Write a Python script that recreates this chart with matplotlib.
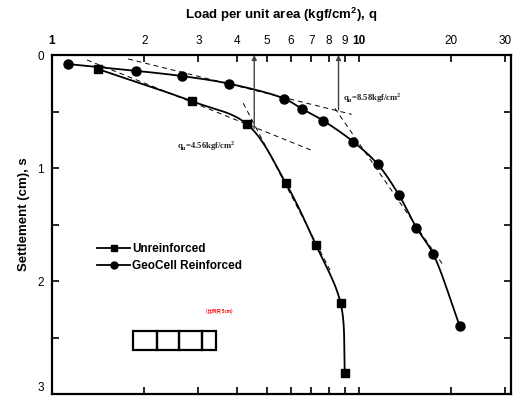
import matplotlib
matplotlib.use("Agg")
import matplotlib.pyplot as plt
import numpy as np
from matplotlib.lines import Line2D
from matplotlib.patches import Rectangle
from matplotlib.ticker import FixedLocator, MultipleLocator, FuncFormatter, NullLocator

plt.rcParams["font.family"] = ["Liberation Sans", "DejaVu Sans"]

# load per unit area q (kgf/cm2) and settlement s (cm)
q_unreinforced = [1.41, 2.86, 4.31, 5.78, 7.24, 8.72, 9.0]
s_unreinforced = [0.124, 0.41, 0.61, 1.135, 1.68, 2.197, 2.817]

q_geocell = [1.127, 1.88, 2.645, 3.78, 5.71, 6.51, 7.65, 9.58, 11.5, 13.5, 15.4, 17.46, 21.3]
s_geocell = [0.08, 0.14, 0.186, 0.254, 0.386, 0.475, 0.581, 0.767, 0.965, 1.239, 1.528, 1.761, 2.398]

# tangent lines used to pick the ultimate bearing capacity: (q0, s0, q1, s1)
tangents = [
    (1.30, 0.044, 7.07, 0.847),
    (4.20, 0.427, 8.05, 1.903),
    (1.77, 0.035, 9.47, 0.525),
    (8.35, 0.472, 18.8, 1.858),
]

qu_values = [4.56, 8.58]
qu_arrow_s = [0.65, 0.487]
qu_labels = [r"q$_\mathregular{u}$=4.56kgf/cm$^\mathregular{2}$",
             r"q$_\mathregular{u}$=8.58kgf/cm$^\mathregular{2}$"]
qu_text_pos = [(2.55, 0.805), (8.89, 0.383)]

x_ticks = [1, 2, 3, 4, 5, 6, 7, 8, 9, 10, 20, 30]


def smooth(xs, ys, n=30, kx=307 / 113):
    # centripetal Catmull-Rom through the points, in (log q, s) space
    P = np.column_stack([np.log10(xs) * kx, ys])
    P = np.vstack([2 * P[0] - P[1], P, 2 * P[-1] - P[-2]])
    out = []
    for i in range(1, len(P) - 2):
        p0, p1, p2, p3 = P[i - 1:i + 3]
        t0 = 0.0
        t1 = t0 + np.linalg.norm(p1 - p0) ** 0.5
        t2 = t1 + np.linalg.norm(p2 - p1) ** 0.5
        t3 = t2 + np.linalg.norm(p3 - p2) ** 0.5
        t = np.linspace(t1, t2, n, endpoint=False)[:, None]
        a1 = (t1 - t) / (t1 - t0) * p0 + (t - t0) / (t1 - t0) * p1
        a2 = (t2 - t) / (t2 - t1) * p1 + (t - t1) / (t2 - t1) * p2
        a3 = (t3 - t) / (t3 - t2) * p2 + (t - t2) / (t3 - t2) * p3
        b1 = (t2 - t) / (t2 - t0) * a1 + (t - t0) / (t2 - t0) * a2
        b2 = (t3 - t) / (t3 - t1) * a2 + (t - t1) / (t3 - t1) * a3
        out.append((t2 - t) / (t2 - t1) * b1 + (t - t1) / (t2 - t1) * b2)
    out.append(P[-2][None])
    c = np.vstack(out)
    return 10 ** (c[:, 0] / kx), c[:, 1]


fig = plt.figure(figsize=(5.28, 3.98), dpi=100)
ax = fig.add_axes([0.0985, 0.01, 0.8693, 0.8518])

ax.set_xscale("log")
ax.set_xlim(1, 31.3)
ax.set_ylim(3, 0)

for q, s, mk, ms in [(q_unreinforced, s_unreinforced, "s", 5.5),
                     (q_geocell, s_geocell, "o", 6.5)]:
    sx, sy = smooth(q, s)
    ax.plot(sx, sy, color="black", lw=1.3, zorder=3)
    ax.plot(q, s, ls="none", marker=mk, ms=ms, color="black", zorder=4)

for q0, s0, q1, s1 in tangents:
    ax.plot([q0, q1], [s0, s1], color="black", lw=0.7, ls=(0, (5, 4)), zorder=2)

for qv, sv in zip(qu_values, qu_arrow_s):
    ax.annotate("", xy=(qv, 0), xytext=(qv, sv), annotation_clip=False,
                arrowprops=dict(arrowstyle="-|>", color="#444444", lw=1.0,
                                mutation_scale=7, shrinkA=0, shrinkB=0))

for lab, (tx, ty) in zip(qu_labels, qu_text_pos):
    ax.text(tx, ty, lab, family=["Liberation Serif", "DejaVu Serif"], fontweight="bold",
            fontsize=6.2, va="center", ha="left", color="#222222")

handles = [
    Line2D([], [], color="black", lw=1.3, marker="s", ms=5),
    Line2D([], [], color="black", lw=1.3, marker="o", ms=5),
]
leg = ax.legend(handles, ["Unreinforced", "GeoCell Reinforced"], loc="upper left",
                bbox_to_anchor=(0.098, 0.446), frameon=False, borderpad=0,
                borderaxespad=0, handlelength=2.8, handletextpad=0.15,
                labelspacing=0.42, prop=dict(weight="bold", size=8.5))

ax.text(0.365, 0.245, "(比例尺 5cm)", transform=ax.transAxes, color="red",
        fontsize=3.2, fontweight="bold", ha="center", va="center",
        family=["Noto Sans CJK SC", "DejaVu Sans"])

# scale boxes
edges = [0.177, 0.228, 0.277, 0.326, 0.357]
for a, b in zip(edges[:-1], edges[1:]):
    ax.add_patch(Rectangle((a, 0.130), b - a, 0.057, transform=ax.transAxes,
                           fill=False, ec="black", lw=1.6))

# axes styling
ax.xaxis.set_major_locator(FixedLocator(x_ticks))
ax.xaxis.set_minor_locator(NullLocator())
ax.xaxis.set_major_formatter(FuncFormatter(lambda v, p: f"{v:g}"))
ax.yaxis.set_major_locator(MultipleLocator(0.5))
ax.yaxis.set_major_formatter(FuncFormatter(lambda v, p: f"{v:g}" if abs(v - round(v)) < 1e-6 else ""))
ax.tick_params(axis="both", which="major", direction="in", length=5, width=1.2,
               labelsize=8.5, top=True, bottom=True, left=True, right=True,
               labeltop=True, labelbottom=False)
ax.tick_params(axis="x", pad=6)
ax.tick_params(axis="y", pad=6)
for sp in ax.spines.values():
    sp.set_linewidth(1.6)

fig.canvas.draw()
for lbl in ax.get_xticklabels():
    if lbl.get_text() in ("1", "10"):
        lbl.set_fontweight("bold")
for lbl in ax.get_yticklabels():
    if lbl.get_text() == "3":
        lbl.set_va("bottom")

ax.xaxis.set_label_position("top")
ax.set_xlabel(r"Load per unit area (kgf/cm$^\mathregular{2}$), q", fontsize=9.5,
              fontweight="bold", labelpad=11)
ax.set_ylabel("Settlement (cm), s", fontsize=9.5, fontweight="bold")
ax.yaxis.set_label_coords(-0.048, 0.53)

fig.savefig("out.png", dpi=100)
